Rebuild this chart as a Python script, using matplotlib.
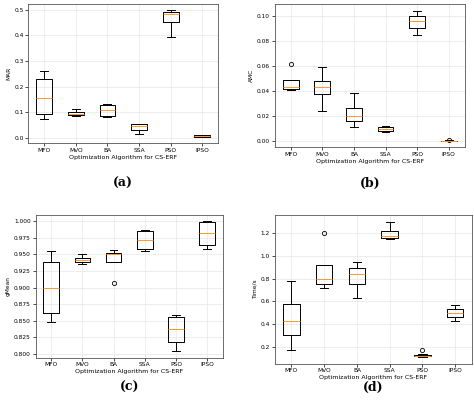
import matplotlib
matplotlib.use("Agg")
import matplotlib.pyplot as plt

algos = ["MFO", "MVO", "BA", "SSA", "PSO", "IPSO"]

# box stats per panel: whisker low, q1, median, q3, whisker high, outliers
mar_lo = [0.073, 0.087, 0.082, 0.016, 0.395, 0.003]
mar_q1 = [0.092, 0.090, 0.085, 0.032, 0.452, 0.005]
mar_med = [0.156, 0.095, 0.108, 0.045, 0.482, 0.007]
mar_q3 = [0.228, 0.100, 0.128, 0.054, 0.492, 0.010]
mar_hi = [0.263, 0.112, 0.134, 0.055, 0.498, 0.011]
mar_fl = [[], [], [], [], [], []]

amc_lo = [0.041, 0.024, 0.0115, 0.0075, 0.085, 0.0002]
amc_q1 = [0.0415, 0.038, 0.0163, 0.0078, 0.0905, 0.0003]
amc_med = [0.0435, 0.0435, 0.020, 0.0097, 0.096, 0.0004]
amc_q3 = [0.049, 0.0478, 0.0265, 0.0115, 0.100, 0.0005]
amc_hi = [0.049, 0.059, 0.0385, 0.012, 0.1045, 0.0006]
amc_fl = [[0.0615], [], [], [], [], [0.0013]]

gm_lo = [0.848, 0.935, 0.938, 0.956, 0.804, 0.959]
gm_q1 = [0.862, 0.939, 0.938, 0.959, 0.817, 0.964]
gm_med = [0.899, 0.942, 0.950, 0.972, 0.838, 0.983]
gm_q3 = [0.938, 0.945, 0.952, 0.985, 0.856, 0.999]
gm_hi = [0.956, 0.950, 0.957, 0.987, 0.858, 1.000]
gm_fl = [[], [], [0.907], [], [], []]

t_lo = [0.17, 0.72, 0.63, 1.15, 0.11, 0.43]
t_q1 = [0.30, 0.755, 0.755, 1.16, 0.115, 0.46]
t_med = [0.43, 0.80, 0.84, 1.18, 0.12, 0.50]
t_q3 = [0.575, 0.925, 0.895, 1.22, 0.13, 0.535]
t_hi = [0.78, 0.925, 0.95, 1.30, 0.135, 0.57]
t_fl = [[], [1.20], [], [], [0.17], []]


def stats(lo, q1, med, q3, hi, fl):
    return [dict(whislo=a, q1=b, med=c, q3=d, whishi=e, fliers=f, label=n)
            for a, b, c, d, e, f, n in zip(lo, q1, med, q3, hi, fl, algos)]


panels = [
    ("MAR", stats(mar_lo, mar_q1, mar_med, mar_q3, mar_hi, mar_fl), "(a)",
     [0.060, 0.645, 0.400, 0.345], [0.0, 0.1, 0.2, 0.3, 0.4, 0.5], "%.1f", 0.547),
    ("AMC", stats(amc_lo, amc_q1, amc_med, amc_q3, amc_hi, amc_fl), "(b)",
     [0.580, 0.635, 0.400, 0.355], [0.0, 0.02, 0.04, 0.06, 0.08, 0.10], "%.2f", 0.547),
    ("gMean", stats(gm_lo, gm_q1, gm_med, gm_q3, gm_hi, gm_fl), "(c)",
     [0.075, 0.115, 0.395, 0.353], [0.8, 0.825, 0.85, 0.875, 0.9, 0.925, 0.95, 0.975, 1.0], "%.3f", 0.04),
    ("Time/s", stats(t_lo, t_q1, t_med, t_q3, t_hi, t_fl), "(d)",
     [0.580, 0.100, 0.415, 0.367], [0.2, 0.4, 0.6, 0.8, 1.0, 1.2], "%.1f", 0.04),
]

fig = plt.figure(figsize=(4.74, 4.04), dpi=100)
for ylabel, st, tag, rect, ticks, fmt, tag_y in panels:
    ax = fig.add_axes(rect)
    ax.bxp(st, widths=0.5,
           boxprops=dict(linewidth=0.7),
           whiskerprops=dict(linewidth=0.7),
           capprops=dict(linewidth=0.7),
           medianprops=dict(color="#ff9933", linewidth=0.7),
           flierprops=dict(marker="o", markersize=3, markerfacecolor="none",
                           markeredgewidth=0.6))
    ax.grid(True, color="#e6e6e6", linewidth=0.5)
    ax.set_axisbelow(True)
    ax.set_yticks(ticks)
    ax.set_yticklabels([fmt % v for v in ticks])
    ax.tick_params(labelsize=4.2, length=2, width=0.5, pad=1.5)
    for s in ax.spines.values():
        s.set_linewidth(0.6)
        s.set_color("#555555")
    ax.set_ylabel(ylabel, fontsize=4.2, labelpad=2)
    ax.set_xlabel("Optimization Algorithm for CS-ERF", fontsize=4.5, labelpad=1)
    fig.text(rect[0] + rect[2] / 2, tag_y, tag, ha="center", va="center",
             fontsize=9, family="DejaVu Serif", fontweight="bold")

fig.savefig("out.png", dpi=100)
